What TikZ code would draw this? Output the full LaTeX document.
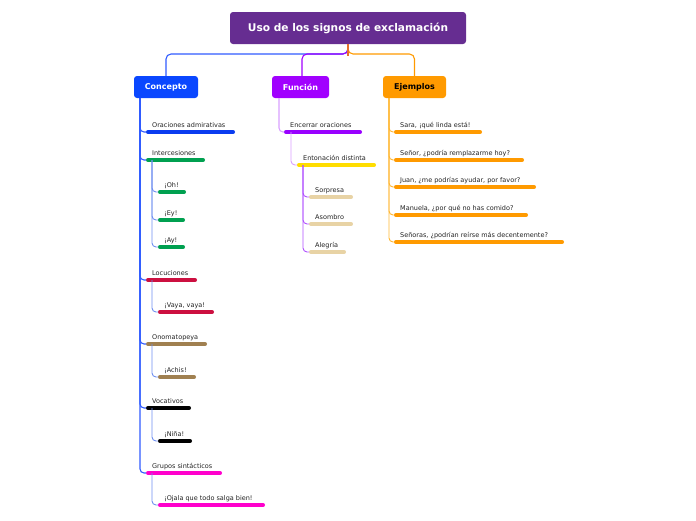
\documentclass[tikz,border=0pt]{standalone}
\usepackage{fontspec}
\setmainfont{DejaVu Sans}
\definecolor{rootc}{HTML}{662D91}
\definecolor{concc}{HTML}{0A47FF}
\definecolor{funcc}{HTML}{A100FF}
\definecolor{ejemc}{HTML}{FF9A00}
\definecolor{connblue}{HTML}{2F5BFF}
\definecolor{connlblue}{HTML}{6F8FF0}
\definecolor{connfunc}{HTML}{D9A0FF}
\definecolor{connpurp}{HTML}{B050FF}
\definecolor{connorange}{HTML}{FFB733}
\definecolor{cblue}{HTML}{0A3CF0}
\definecolor{cgreen}{HTML}{00A050}
\definecolor{cred}{HTML}{CC1040}
\definecolor{cbrown}{HTML}{A08050}
\definecolor{cmag}{HTML}{FF00CC}
\definecolor{cpurp}{HTML}{9900FF}
\definecolor{cyellow}{HTML}{FFDD00}
\definecolor{ctan}{HTML}{E8D3A5}
\definecolor{txt}{HTML}{222222}
\definecolor{stubc}{HTML}{E8702A}
\newcommand\mmleaf[6]{%
  \coordinate (#1L) at (#2,#4);
  \coordinate (#1R) at (#3,#4);
  \node[leaftext, anchor=base west] (#1) at (#2+6,#4-4.5) {#6};
  \draw[bar, #5] ([xshift=1.75pt]#1L) -- ([xshift=-1.75pt]#1R);}
\begin{document}
\begin{tikzpicture}[x=1pt,y=-1pt,
  box/.style={rounded corners=3pt, inner sep=0pt, font=\bfseries},
  leaftext/.style={font=\fontsize{6.5}{7.5}\selectfont, text=txt, inner sep=0pt},
  bar/.style={line width=3.5pt, line cap=round},
  conn/.style={line width=0.9pt, rounded corners=4pt},
  tconn/.style={line width=1.1pt, rounded corners=5pt}]
\useasboundingbox (0,0) rectangle (696,520);
% root and main branches
\node[box, fill=rootc, text=white, minimum width=236pt, minimum height=32pt, font=\bfseries\fontsize{10.6}{12}\selectfont] (root) at (348,28) {Uso de los signos de exclamación};
\node[box, fill=concc, text=white, minimum width=64pt, minimum height=22pt, font=\bfseries\fontsize{8}{9}\selectfont] (conc) at (166,87) {Concepto};
\node[box, fill=funcc, text=white, minimum width=57pt, minimum height=22pt, font=\bfseries\fontsize{8}{9}\selectfont] (func) at (300.5,87) {Función};
\node[box, fill=ejemc, text=black, minimum width=63pt, minimum height=22pt, font=\bfseries\fontsize{8}{9}\selectfont] (ejem) at (414.5,87) {Ejemplos};
\coordinate (hub) at (348,54);
\draw[tconn, connblue] (root.south) -- (hub) -| (conc.north);
\draw[tconn, funcc] (root.south) -- (hub) -| ([xshift=1.5pt]func.north);
\draw[tconn, ejemc] (root.south) -- (hub) -| (ejem.north);
\draw[line width=1.1pt, stubc] (root.south) -- ([yshift=-1.5pt]hub);
% Concepto
\coordinate (c0) at (140,98);
\mmleaf{ora}{146}{235}{132}{cblue}{Oraciones admirativas}
\mmleaf{int}{146}{205}{160}{cgreen}{Intercesiones}
\mmleaf{oh}{158}{186}{192}{cgreen}{¡Oh!}
\mmleaf{ey}{158}{185}{220}{cgreen}{¡Ey!}
\mmleaf{ay}{158}{185}{247}{cgreen}{¡Ay!}
\mmleaf{loc}{146}{197}{280}{cred}{Locuciones}
\mmleaf{vay}{158}{214}{312}{cred}{¡Vaya, vaya!}
\mmleaf{ono}{146}{207}{344}{cbrown}{Onomatopeya}
\mmleaf{ach}{158}{196}{377}{cbrown}{¡Achis!}
\mmleaf{voc}{146}{191}{408}{black}{Vocativos}
\mmleaf{nin}{158}{192}{441}{black}{¡Niña!}
\mmleaf{gru}{146}{222}{473}{cmag}{Grupos sintácticos}
\mmleaf{oja}{158}{265}{505}{cmag}{¡Ojala que todo salga bien!}
\foreach \n in {ora,int,loc,ono,voc,gru}
  \draw[conn, connblue, line width=1.1pt] (c0) |- (\n L);
\coordinate (i0) at (152,160);
\coordinate (l0) at (152,280);
\coordinate (o0) at (152,344);
\coordinate (v0) at (152,408);
\coordinate (g0) at (152,473);
\foreach \s/\t in {i0/oh,i0/ey,i0/ay,l0/vay,o0/ach,v0/nin,g0/oja}
  \draw[conn, connlblue] (\s) |- (\t L);
% Función
\coordinate (f0) at (279,98);
\mmleaf{enc}{284}{362}{132}{cpurp}{Encerrar oraciones}
\mmleaf{ent}{297}{376}{165}{cyellow}{Entonación distinta}
\mmleaf{sor}{309}{353}{197}{ctan}{Sorpresa}
\mmleaf{aso}{309}{353}{224}{ctan}{Asombro}
\mmleaf{ale}{309}{346}{252}{ctan}{Alegría}
\draw[conn, connfunc, line width=1.1pt] (f0) |- (encL);
\coordinate (e0) at (291,132);
\draw[conn, connfunc] (e0) |- (entL);
\coordinate (n0) at (303,165);
\foreach \t in {sor,aso,ale}
  \draw[conn, connpurp] (n0) |- (\t L);
% Ejemplos
\coordinate (x0) at (389,98);
\mmleaf{sar}{394}{482}{132}{ejemc}{Sara, ¡qué linda está!}
\mmleaf{sen}{394}{524}{160}{ejemc}{Señor, ¿podría remplazarme hoy?}
\mmleaf{jua}{394}{536}{187}{ejemc}{Juan, ¿me podrías ayudar, por favor?}
\mmleaf{man}{394}{528}{215}{ejemc}{Manuela, ¿por qué no has comido?}
\mmleaf{sea}{394}{564}{242}{ejemc}{Señoras, ¿podrían reírse más decentemente?}
\foreach \t in {sar,sen,jua,man,sea}
  \draw[conn, connorange] (x0) |- (\t L);
\end{tikzpicture}
\end{document}
